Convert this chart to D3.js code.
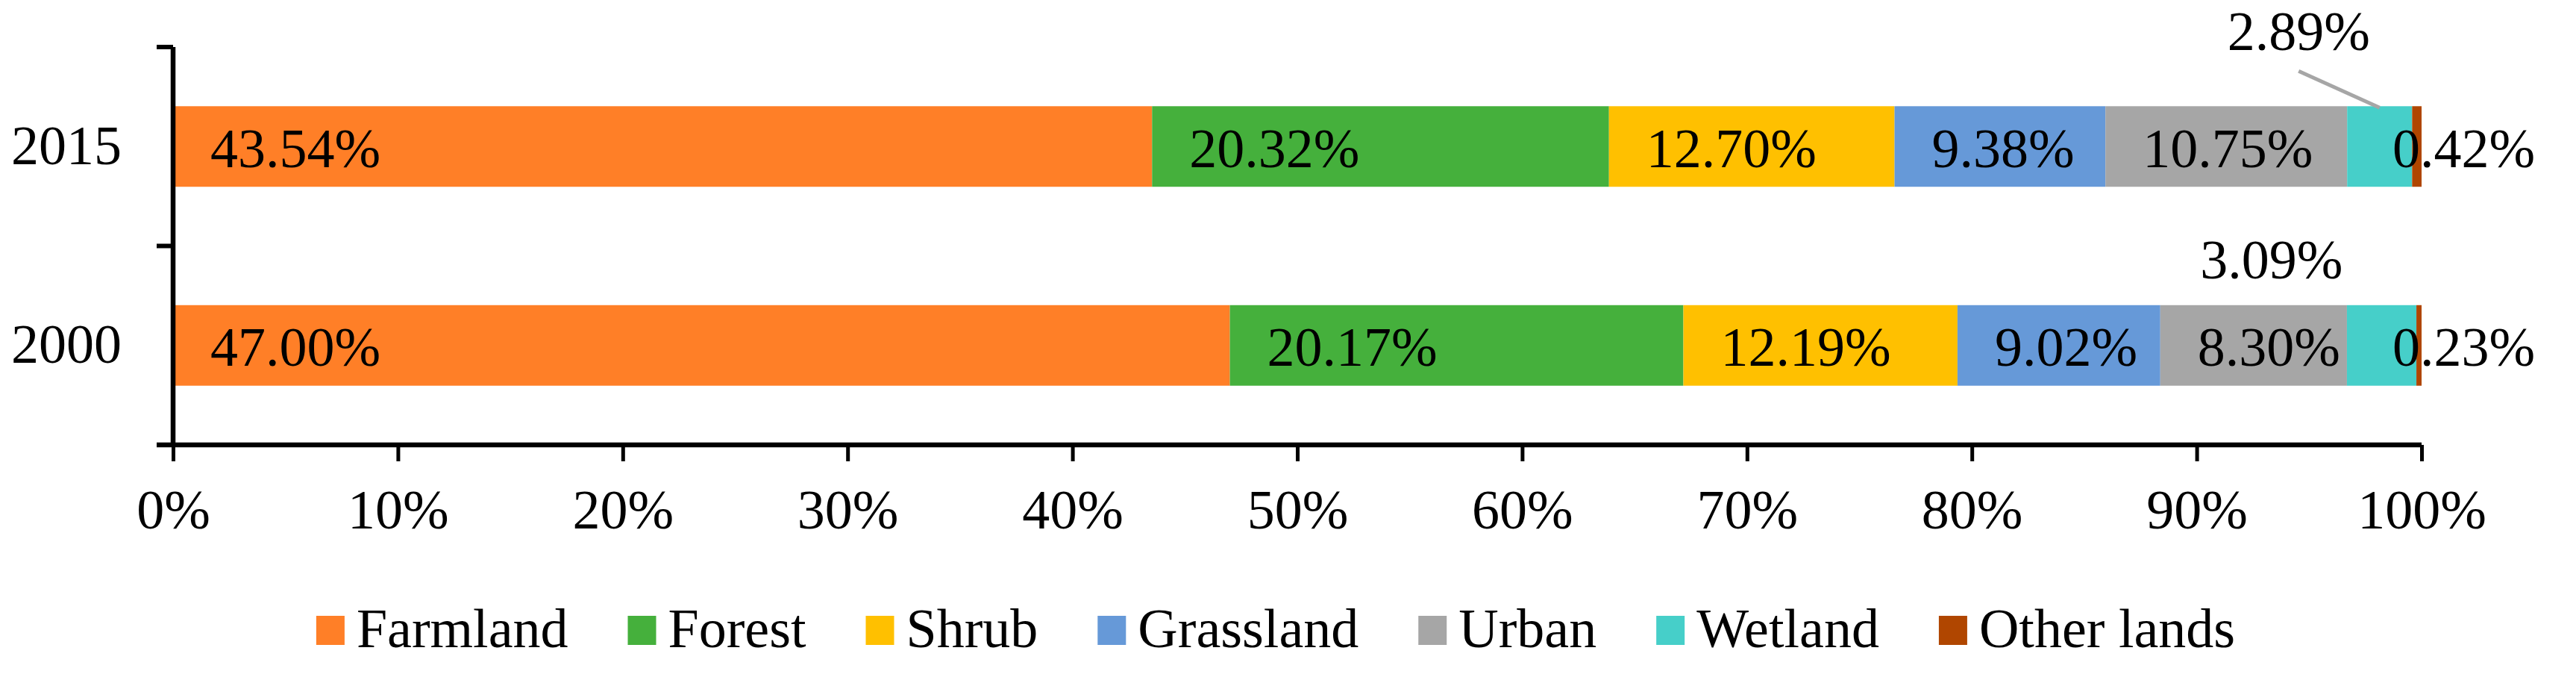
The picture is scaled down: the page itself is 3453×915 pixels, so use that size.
<!DOCTYPE html>
<html lang="en">
<head>
  <meta charset="UTF-8" />
  <title>Land use composition 2000 / 2015</title>
  <script src="https://d3js.org/d3.v7.min.js"></script>
  <style>
    body {
      margin: 0;
      background: #fff;
    }
    svg {
      display: block;
      font-family: 'Liberation Serif', 'Times New Roman', serif;
    }
    text {
      fill: #000;
    }
  </style>
</head>
<body>
  <svg width="3453" height="915"></svg>
  <script>
    // values (percent of area)
    const years = ["2015", "2000"];
    const landTypes = ["Farmland", "Forest", "Shrub", "Grassland", "Urban", "Wetland", "Other lands"];
    const share2015 = [43.54, 20.32, 12.70, 9.38, 10.75, 2.89, 0.42];
    const share2000 = [47.00, 20.17, 12.19, 9.02, 8.30, 3.09, 0.23];
    const xTicks = [0, 10, 20, 30, 40, 50, 60, 70, 80, 90, 100];
    const colors = ["#FF7F27", "#45B03C", "#FFC000", "#6699D8", "#A6A6A6", "#46CFC9", "#B04600"];

    const fontSize = 74;
    const svg = d3.select("svg");

    const rows = years.map((yr, i) => {
      const vals = i === 0 ? share2015 : share2000;
      const row = { year: yr };
      landTypes.forEach((k, j) => row[k] = vals[j]);
      return row;
    });

    const stacked = d3.stack().keys(landTypes)(rows);

    const x = d3.scaleLinear().domain([0, 100]).range([232, 3246]);
    const y = d3.scaleBand().domain(years).range([63, 596])
      .paddingInner(0.595).paddingOuter(0.2975);
    const color = d3.scaleOrdinal().domain(landTypes).range(colors);

    // bars
    const layer = svg.append("g").selectAll("g")
      .data(stacked)
      .join("g")
      .attr("fill", d => color(d.key));

    layer.selectAll("rect")
      .data(d => d.map(p => ({ key: d.key, year: p.data.year, x0: p[0], x1: p[1], v: p.data[d.key] })))
      .join("rect")
      .attr("x", d => x(d.x0))
      .attr("width", d => x(d.x1) - x(d.x0))
      .attr("y", d => y(d.year))
      .attr("height", y.bandwidth());

    // axes
    const xAxis = svg.append("g")
      .attr("transform", `translate(0,${y.range()[1]})`)
      .call(d3.axisBottom(x).tickValues(xTicks).tickFormat(d => d + "%")
        .tickSize(22).tickSizeOuter(0).tickPadding(37));

    const yAxis = svg.append("g")
      .attr("transform", `translate(${x(0)},0)`)
      .call(d3.axisLeft(y).tickSize(0).tickPadding(69));

    // category boundary ticks on the y axis (Excel style)
    const bounds = [y.range()[0], y.range()[0] + y.step(), y.range()[1]];
    yAxis.selectAll(".bound")
      .data(bounds)
      .join("line")
      .attr("class", "bound")
      .attr("x1", -22).attr("x2", 0)
      .attr("y1", d => d).attr("y2", d => d)
      .attr("stroke", "#000").attr("stroke-width", 6);

    [xAxis, yAxis].forEach(g => {
      g.select(".domain").attr("stroke", "#000").attr("stroke-width", 6.5);
      g.selectAll(".tick line").attr("stroke", "#000").attr("stroke-width", 5);
      g.selectAll("text")
        .attr("font-size", fontSize)
        .attr("font-family", "'Liberation Serif', 'Times New Roman', serif")
        .attr("fill", "#000");
    });
    yAxis.select(".domain").attr("d", `M0,${y.range()[0]}V${y.range()[1]}`);
    xAxis.select(".domain").attr("d", `M${x(0) - 22},0H${x(100)}`);

    // data labels
    const labelGroup = svg.append("g")
      .attr("font-size", fontSize);

    const segs = stacked.flatMap(s => s.map(p => ({
      key: s.key, year: p.data.year, x0: p[0], x1: p[1], v: p.data[s.key]
    })));

    // wetland labels were dragged above the bars in the original
    const wetlandNudge = { "2015": [-65, -75], "2000": [-101, -36] };

    segs.forEach(d => {
      const barTop = y(d.year);
      const mid = barTop + y.bandwidth() / 2;
      const txt = d.v.toFixed(2) + "%";
      if (d.key === "Wetland") {
        const [dx, dy] = wetlandNudge[d.year];
        const lx = x(d.x0) + dx, ly = barTop + dy;
        labelGroup.append("text")
          .attr("x", lx).attr("y", ly)
          .attr("text-anchor", "middle")
          .text(txt);
        if (d.year === "2015") {
          svg.append("line")
            .attr("x1", lx).attr("y1", ly + 28)
            .attr("x2", (x(d.x0) + x(d.x1)) / 2).attr("y2", barTop + 2)
            .attr("stroke", "#A6A6A6").attr("stroke-width", 5);
        }
      } else if (d.key === "Other lands") {
        labelGroup.append("text")
          .attr("x", x(100) - 39).attr("y", mid).attr("dy", "0.37em")
          .text(txt);
      } else {
        labelGroup.append("text")
          .attr("x", x(d.x0) + 50).attr("y", mid).attr("dy", "0.37em")
          .text(txt);
      }
    });

    // legend
    const legend = svg.append("g").attr("font-size", fontSize);
    const items = legend.selectAll("g")
      .data(landTypes)
      .join("g");
    items.append("rect")
      .attr("width", 38).attr("height", 39)
      .attr("y", 825)
      .attr("fill", d => color(d));
    items.append("text")
      .attr("x", 54).attr("y", 867)
      .text(d => d);

    let cursor = 0;
    const widths = [];
    items.each(function () {
      const w = 54 + this.querySelector("text").getComputedTextLength();
      widths.push(w);
    });
    const gap = 80;
    const total = d3.sum(widths) + gap * (widths.length - 1);
    cursor = 1710 - total / 2;
    items.attr("transform", (d, i) => {
      const t = `translate(${cursor},0)`;
      cursor += widths[i] + gap;
      return t;
    });
  </script>
</body>
</html>
